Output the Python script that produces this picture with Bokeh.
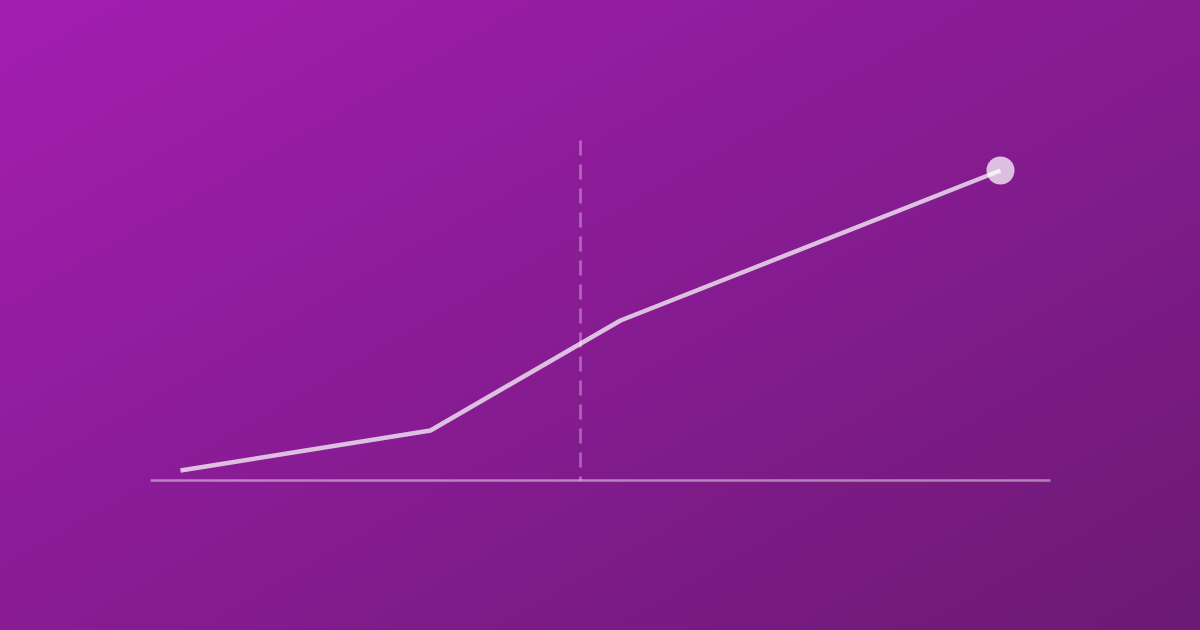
from bokeh.plotting import figure
from bokeh.models import Range1d
from bokeh.embed import file_html
from bokeh.resources import INLINE

# Data (arbitrary units)
x_vals = [0, 25, 44, 82]
y_vals = [1, 5, 16, 31]
marker_x = 40          # dashed reference line position
marker_top = 34        # height of the dashed reference line
axis_start = -3
axis_end = 87

W, H = 1200, 630

p = figure(width=W, height=H, output_backend="svg", toolbar_location=None,
           x_range=Range1d(-18, 102), y_range=Range1d(-15, 48),
           min_border=0, min_border_left=0, min_border_right=0,
           min_border_top=0, min_border_bottom=0)
p.axis.visible = False
p.grid.visible = False
p.outline_line_color = None
p.background_fill_alpha = 0
p.border_fill_alpha = 0
p.styles = {"background": "linear-gradient(150deg, #a31eb0 0%, #8a1c96 45%, #6c1a73 100%)"}

# baseline
p.segment(x0=[axis_start], y0=[0], x1=[axis_end], y1=[0],
          line_color="white", line_alpha=0.45, line_width=2.5)
# dashed reference line (drawn from the top down so the pattern starts at the top)
p.segment(x0=[marker_x], y0=[marker_top], x1=[marker_x], y1=[0],
          line_color="white", line_alpha=0.35, line_width=2.5, line_dash="15 9")
# main line
p.line(x_vals, y_vals, line_color="white", line_alpha=0.72, line_width=4.5)
# end point
p.scatter([x_vals[-1]], [y_vals[-1]], size=28, fill_color="white", fill_alpha=0.72,
          line_color=None)

html = file_html(p, INLINE)
html = html.replace("<head>", "<head><style>html,body{margin:0;padding:0;overflow:hidden;}</style>", 1)
open("out.html", "w").write(html)
